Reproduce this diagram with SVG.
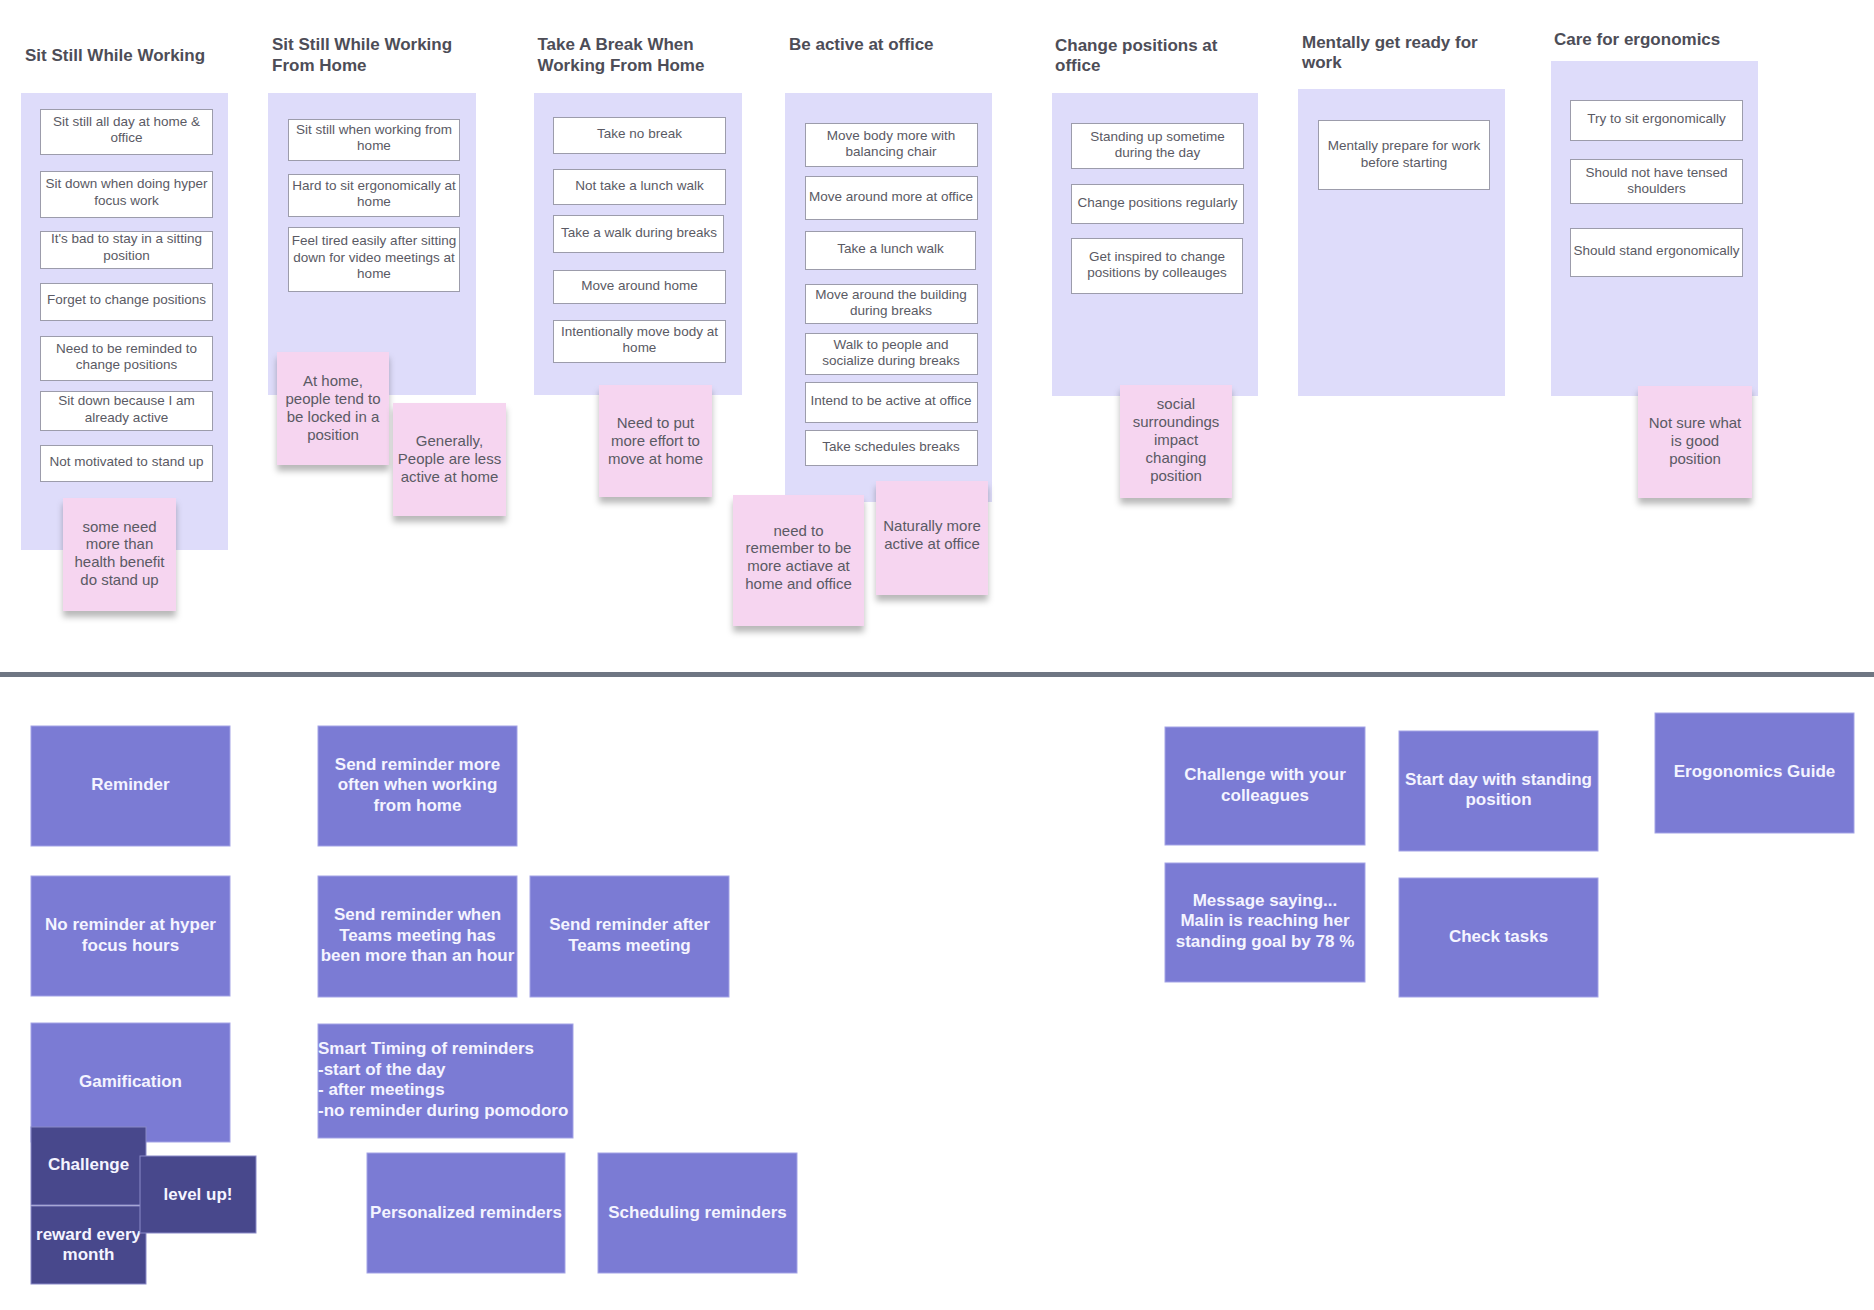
<svg xmlns="http://www.w3.org/2000/svg" width="1874" height="1310" viewBox="0 0 1874 1310">
<defs>
<style>
.title{font-family:"Liberation Sans",Arial,sans-serif;font-size:17px;font-weight:bold;fill:#4d4d57}
.panel{fill:#dedcfa}
.card{fill:#ffffff;stroke:#9c9cab;stroke-width:1}
.ct{font-family:"Liberation Sans",Arial,sans-serif;font-size:13.5px;fill:#5a5a64;text-anchor:middle}
.sticky{fill:#f6d5f0}
.st{font-family:"Liberation Sans",Arial,sans-serif;font-size:15px;fill:#5a5a64;text-anchor:middle}
.box{fill:#7b7bd4;stroke:#a3a3e6;stroke-width:1}
.dark{fill:#48488c;stroke:#8a8ac8;stroke-width:1}
.bt{font-family:"Liberation Sans",Arial,sans-serif;font-size:17px;font-weight:bold;fill:#f4f4ff;text-anchor:middle}
.btl{font-family:"Liberation Sans",Arial,sans-serif;font-size:17px;font-weight:bold;fill:#f4f4ff}
</style>
<filter id="shadow" x="-20%" y="-20%" width="140%" height="150%">
<feDropShadow dx="0" dy="6" stdDeviation="3" flood-color="#000" flood-opacity="0.28"/>
</filter>
</defs>
<rect width="1874" height="1310" fill="#ffffff"/>

<!-- Column 1 -->
<g id="col1">
<text class="title" x="25" y="61">Sit Still While Working</text>
<rect class="panel" x="21" y="93" width="207" height="457"/>
<g id="c1-1"><rect class="card" x="40.5" y="109.5" width="172" height="45"/><text class="ct" x="126.5"><tspan x="126.5" y="126">Sit still all day at home &amp;</tspan><tspan x="126.5" y="142">office</tspan></text></g>
<g id="c1-2"><rect class="card" x="40.5" y="171.5" width="172" height="46"/><text class="ct"><tspan x="126.5" y="188">Sit down when doing hyper</tspan><tspan x="126.5" y="204.5">focus work</tspan></text></g>
<g id="c1-3"><rect class="card" x="40.5" y="231.5" width="172" height="37"/><text class="ct"><tspan x="126.5" y="243">It's bad to stay in a sitting</tspan><tspan x="126.5" y="260">position</tspan></text></g>
<g id="c1-4"><rect class="card" x="40.5" y="283.5" width="172" height="37"/><text class="ct" x="126.5" y="304">Forget to change positions</text></g>
<g id="c1-5"><rect class="card" x="40.5" y="336.5" width="172" height="44"/><text class="ct"><tspan x="126.5" y="352.5">Need to be reminded to</tspan><tspan x="126.5" y="369">change positions</tspan></text></g>
<g id="c1-6"><rect class="card" x="40.5" y="391.5" width="172" height="39"/><text class="ct"><tspan x="126.5" y="405">Sit down because I am</tspan><tspan x="126.5" y="421.5">already active</tspan></text></g>
<g id="c1-7"><rect class="card" x="40.5" y="445.5" width="172" height="36"/><text class="ct" x="126.5" y="465.5">Not motivated to stand up</text></g>
<g id="s1"><rect class="sticky" x="63" y="498" width="113" height="113" filter="url(#shadow)"/><text class="st"><tspan x="119.5" y="531.5">some need</tspan><tspan x="119.5" y="549">more than</tspan><tspan x="119.5" y="567">health benefit</tspan><tspan x="119.5" y="585">do stand up</tspan></text></g>
</g>

<!-- Column 2 -->
<g id="col2">
<text class="title"><tspan x="272" y="50">Sit Still While Working</tspan><tspan x="272" y="70.5">From Home</tspan></text>
<rect class="panel" x="268" y="93" width="208" height="302"/>
<g id="c2-1"><rect class="card" x="288.5" y="119.5" width="171" height="41"/><text class="ct"><tspan x="374" y="134">Sit still when working from</tspan><tspan x="374" y="150">home</tspan></text></g>
<g id="c2-2"><rect class="card" x="288.5" y="174.5" width="171" height="42"/><text class="ct"><tspan x="374" y="189.5">Hard to sit ergonomically at</tspan><tspan x="374" y="205.5">home</tspan></text></g>
<g id="c2-3"><rect class="card" x="288.5" y="227.5" width="171" height="64"/><text class="ct"><tspan x="374" y="245">Feel tired easily after sitting</tspan><tspan x="374" y="261.5">down for video meetings at</tspan><tspan x="374" y="278">home</tspan></text></g>
<g id="s2a"><rect class="sticky" x="277" y="352" width="112" height="113" filter="url(#shadow)"/><text class="st"><tspan x="333" y="386">At home,</tspan><tspan x="333" y="404">people tend to</tspan><tspan x="333" y="421.5">be locked in a</tspan><tspan x="333" y="440">position</tspan></text></g>
<g id="s2b"><rect class="sticky" x="393" y="403" width="113" height="113" filter="url(#shadow)"/><text class="st"><tspan x="449.5" y="446">Generally,</tspan><tspan x="449.5" y="464">People are less</tspan><tspan x="449.5" y="482">active at home</tspan></text></g>
</g>

<!-- Column 3 -->
<g id="col3">
<text class="title"><tspan x="537.5" y="50">Take A Break When</tspan><tspan x="537.5" y="70.5">Working From Home</tspan></text>
<rect class="panel" x="534" y="93" width="208" height="302"/>
<g id="c3-1"><rect class="card" x="553.5" y="117.5" width="172" height="36"/><text class="ct" x="639.5" y="137.5">Take no break</text></g>
<g id="c3-2"><rect class="card" x="553.5" y="169.5" width="172" height="35"/><text class="ct" x="639.5" y="189.5">Not take a lunch walk</text></g>
<g id="c3-3"><rect class="card" x="553.5" y="215.5" width="170" height="37"/><text class="ct" x="639" y="237">Take a walk during breaks</text></g>
<g id="c3-4"><rect class="card" x="553.5" y="270.5" width="172" height="33"/><text class="ct" x="639.5" y="289.5">Move around home</text></g>
<g id="c3-5"><rect class="card" x="553.5" y="320.5" width="172" height="42"/><text class="ct"><tspan x="639.5" y="336">Intentionally move body at</tspan><tspan x="639.5" y="352">home</tspan></text></g>
<g id="s3"><rect class="sticky" x="599" y="385" width="113" height="112" filter="url(#shadow)"/><text class="st"><tspan x="655.5" y="428">Need to put</tspan><tspan x="655.5" y="446">more effort to</tspan><tspan x="655.5" y="463.5">move at home</tspan></text></g>
</g>

<!-- Column 4 -->
<g id="col4">
<text class="title" x="789" y="50">Be active at office</text>
<rect class="panel" x="785" y="93" width="207" height="409"/>
<g id="c4-1"><rect class="card" x="805.5" y="123.5" width="172" height="43"/><text class="ct"><tspan x="891" y="139.5">Move body more with</tspan><tspan x="891" y="156">balancing chair</tspan></text></g>
<g id="c4-2"><rect class="card" x="805.5" y="176.5" width="172" height="43"/><text class="ct" x="891" y="200.5">Move around more at office</text></g>
<g id="c4-3"><rect class="card" x="805.5" y="231.5" width="170" height="38"/><text class="ct" x="890.5" y="253">Take a lunch walk</text></g>
<g id="c4-4"><rect class="card" x="805.5" y="284.5" width="172" height="39"/><text class="ct"><tspan x="891" y="298.5">Move around the building</tspan><tspan x="891" y="314.5">during breaks</tspan></text></g>
<g id="c4-5"><rect class="card" x="805.5" y="333.5" width="172" height="41"/><text class="ct"><tspan x="891" y="349">Walk to people and</tspan><tspan x="891" y="365">socialize during breaks</tspan></text></g>
<g id="c4-6"><rect class="card" x="805.5" y="382.5" width="172" height="40"/><text class="ct" x="891" y="405">Intend to be active at office</text></g>
<g id="c4-7"><rect class="card" x="805.5" y="430.5" width="172" height="35"/><text class="ct" x="891" y="451">Take schedules breaks</text></g>
<g id="s4a"><rect class="sticky" x="733" y="495" width="131" height="131" filter="url(#shadow)"/><text class="st"><tspan x="798.5" y="535.5">need to</tspan><tspan x="798.5" y="553">remember to be</tspan><tspan x="798.5" y="571">more actiave at</tspan><tspan x="798.5" y="588.5">home and office</tspan></text></g>
<g id="s4b"><rect class="sticky" x="876" y="481" width="112" height="114" filter="url(#shadow)"/><text class="st"><tspan x="932" y="531">Naturally more</tspan><tspan x="932" y="549">active at office</tspan></text></g>
</g>

<!-- Column 5 -->
<g id="col5">
<text class="title"><tspan x="1055" y="50.5">Change positions at</tspan><tspan x="1055" y="71">office</tspan></text>
<rect class="panel" x="1052" y="93" width="206" height="303"/>
<g id="c5-1"><rect class="card" x="1071.5" y="123.5" width="172" height="45"/><text class="ct"><tspan x="1157.5" y="141">Standing up sometime</tspan><tspan x="1157.5" y="157">during the day</tspan></text></g>
<g id="c5-2"><rect class="card" x="1071.5" y="184.5" width="172" height="39"/><text class="ct" x="1157.5" y="207">Change positions regularly</text></g>
<g id="c5-3"><rect class="card" x="1071.5" y="238.5" width="171" height="55"/><text class="ct"><tspan x="1157" y="261">Get inspired to change</tspan><tspan x="1157" y="277">positions by colleauges</tspan></text></g>
<g id="s5"><rect class="sticky" x="1120" y="385" width="112" height="113" filter="url(#shadow)"/><text class="st"><tspan x="1176" y="409">social</tspan><tspan x="1176" y="427">surroundings</tspan><tspan x="1176" y="445">impact</tspan><tspan x="1176" y="463">changing</tspan><tspan x="1176" y="480.5">position</tspan></text></g>
</g>

<!-- Column 6 -->
<g id="col6">
<text class="title"><tspan x="1302" y="48">Mentally get ready for</tspan><tspan x="1302" y="68">work</tspan></text>
<rect class="panel" x="1298" y="89" width="207" height="307"/>
<g id="c6-1"><rect class="card" x="1318.5" y="120.5" width="171" height="69"/><text class="ct"><tspan x="1404" y="150">Mentally prepare for work</tspan><tspan x="1404" y="166.5">before starting</tspan></text></g>
</g>

<!-- Column 7 -->
<g id="col7">
<text class="title" x="1554" y="45">Care for ergonomics</text>
<rect class="panel" x="1551" y="61" width="207" height="335"/>
<g id="c7-1"><rect class="card" x="1570.5" y="100.5" width="172" height="40"/><text class="ct" x="1656.5" y="123">Try to sit ergonomically</text></g>
<g id="c7-2"><rect class="card" x="1570.5" y="159.5" width="172" height="44"/><text class="ct"><tspan x="1656.5" y="176.5">Should not have tensed</tspan><tspan x="1656.5" y="193">shoulders</tspan></text></g>
<g id="c7-3"><rect class="card" x="1570.5" y="228.5" width="172" height="48"/><text class="ct" x="1656.5" y="255">Should stand ergonomically</text></g>
<g id="s7"><rect class="sticky" x="1638" y="386" width="114" height="112" filter="url(#shadow)"/><text class="st"><tspan x="1695" y="428">Not sure what</tspan><tspan x="1695" y="446">is good</tspan><tspan x="1695" y="464">position</tspan></text></g>
</g>

<!-- Divider -->
<rect id="divider" x="0" y="672" width="1874" height="5" fill="#6f7683"/>

<!-- Bottom ideas -->
<g id="reminder"><rect class="box" x="31" y="726" width="199" height="120"/><text class="bt" x="130.5" y="789.5">Reminder</text></g>
<g id="send-more-often"><rect class="box" x="318" y="726" width="199" height="120"/><text class="bt"><tspan x="417.5" y="769.5">Send reminder more</tspan><tspan x="417.5" y="790">often when working</tspan><tspan x="417.5" y="810.5">from home</tspan></text></g>
<g id="no-reminder"><rect class="box" x="31" y="876" width="199" height="120"/><text class="bt"><tspan x="130.5" y="929.5">No reminder at hyper</tspan><tspan x="130.5" y="950.5">focus hours</tspan></text></g>
<g id="send-teams-hour"><rect class="box" x="318" y="876" width="199" height="121"/><text class="bt"><tspan x="417.5" y="919.5">Send reminder when</tspan><tspan x="417.5" y="940.5">Teams meeting has</tspan><tspan x="417.5" y="961">been more than an hour</tspan></text></g>
<g id="send-after-teams"><rect class="box" x="530" y="876" width="199" height="121"/><text class="bt"><tspan x="629.5" y="930">Send reminder after</tspan><tspan x="629.5" y="951">Teams meeting</tspan></text></g>
<g id="gamification"><rect class="box" x="31" y="1023" width="199" height="119"/><text class="bt" x="130.5" y="1086.5">Gamification</text></g>
<g id="smart-timing"><rect class="box" x="318" y="1024" width="255" height="114"/><text class="btl"><tspan x="318" y="1054">Smart Timing of reminders</tspan><tspan x="318" y="1074.5">-start of the day</tspan><tspan x="318" y="1095">- after meetings</tspan><tspan x="318" y="1115.5">-no reminder during pomodoro</tspan></text></g>
<g id="challenge"><rect class="dark" x="31" y="1127" width="115" height="78"/><text class="bt" x="88.5" y="1170">Challenge</text></g>
<g id="reward"><rect class="dark" x="31" y="1206" width="115" height="78"/><text class="bt"><tspan x="88.5" y="1240">reward every</tspan><tspan x="88.5" y="1259.5">month</tspan></text></g>
<g id="levelup"><rect class="dark" x="140" y="1156" width="116" height="77"/><text class="bt" x="198" y="1200">level up!</text></g>
<g id="personalized"><rect class="box" x="367" y="1153" width="198" height="120"/><text class="bt" x="466" y="1217.5">Personalized reminders</text></g>
<g id="scheduling"><rect class="box" x="598" y="1153" width="199" height="120"/><text class="bt" x="697.5" y="1217.5">Scheduling reminders</text></g>

<g id="challenge-colleagues"><rect class="box" x="1165" y="727" width="200" height="118"/><text class="bt"><tspan x="1265" y="780">Challenge with your</tspan><tspan x="1265" y="800.5">colleagues</tspan></text></g>
<g id="start-day"><rect class="box" x="1399" y="731" width="199" height="120"/><text class="bt"><tspan x="1498.5" y="785">Start day with standing</tspan><tspan x="1498.5" y="805">position</tspan></text></g>
<g id="ergonomics-guide"><rect class="box" x="1655" y="713" width="199" height="120"/><text class="bt" x="1754.5" y="777">Erogonomics Guide</text></g>
<g id="message"><rect class="box" x="1165" y="863" width="200" height="119"/><text class="bt"><tspan x="1265" y="906">Message saying...</tspan><tspan x="1265" y="926">Malin is reaching her</tspan><tspan x="1265" y="947">standing goal by 78 %</tspan></text></g>
<g id="check-tasks"><rect class="box" x="1399" y="878" width="199" height="119"/><text class="bt" x="1498.5" y="942">Check tasks</text></g>

<g id="connectors"></g>
</svg>
